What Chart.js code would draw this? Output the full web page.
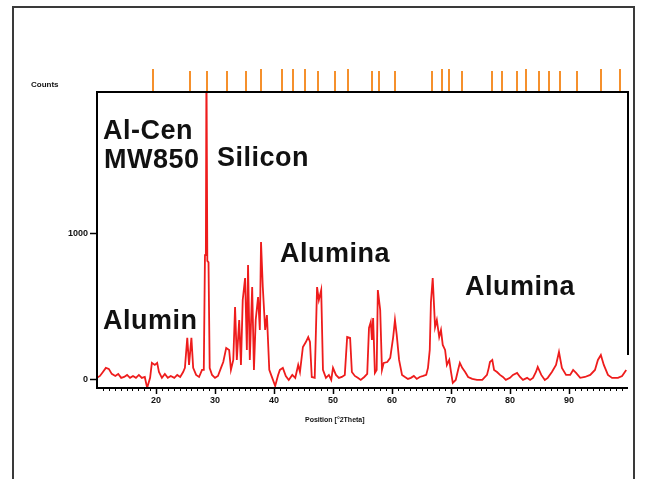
<!DOCTYPE html>
<html>
<head>
<meta charset="utf-8">
<script src="https://cdn.jsdelivr.net/npm/chart.js@4.4.0/dist/chart.umd.min.js"></script>
<style>
  html, body { margin: 0; padding: 0; background: #fff; }
  #wrap { position: relative; width: 649px; height: 479px; overflow: hidden; }
  #frame { position: absolute; left: 12px; top: 6px; width: 619px; height: 480px; border: 2px solid #3a3a3a; border-bottom: none; }
  canvas { position: absolute; left: 0; top: 0; }
  .lbl { position: absolute; font-family: "Liberation Sans", Arial, sans-serif; font-weight: bold; font-size: 27px; line-height: 27px; letter-spacing: 0.5px; color: #111; white-space: nowrap; }
  .tiny { position: absolute; font-family: "Liberation Sans", Arial, sans-serif; font-weight: bold; font-size: 8px; line-height: 8px; color: #111; white-space: nowrap; }
</style>
</head>
<body>
<div id="wrap">
  <div id="frame"></div>
  <canvas id="xrd" width="649" height="479"></canvas>
  <div class="tiny" style="left:31px; top:81px;">Counts</div>
  <div class="tiny" style="left:305px; top:416px; font-size:7px;">Position [°2Theta]</div>
  <div class="lbl" style="left:103px; top:117px;">Al-Cen</div>
  <div class="lbl" style="left:104px; top:146px;">MW850</div>
  <div class="lbl" style="left:217px; top:144px;">Silicon</div>
  <div class="lbl" style="left:280px; top:240px;">Alumina</div>
  <div class="lbl" style="left:465px; top:273px;">Alumina</div>
  <div class="lbl" style="left:103px; top:307px;">Alumin</div>
</div>
<script>
// measured pattern: 2theta position and counts
const position = [
  10.0, 10.5, 11.0, 11.5, 12.0, 12.5, 13.1, 13.6, 14.1, 14.6,
  15.1, 15.6, 16.1, 16.6, 17.1, 17.6, 18.1, 18.5, 19.0, 19.3,
  19.8, 20.2, 20.5, 21.0, 21.5, 22.0, 22.5, 23.1, 23.6, 24.1,
  24.6, 24.9, 25.3, 25.6, 26.0, 26.3, 26.8, 27.3, 27.8, 28.1,
  28.3, 28.45, 28.55, 28.7, 28.9, 29.1, 29.5, 30.0, 30.5, 31.0,
  31.4, 31.9, 32.4, 32.7, 33.1, 33.4, 33.7, 34.1, 34.4, 34.7,
  35.1, 35.4, 35.6, 35.9, 36.3, 36.6, 36.9, 37.3, 37.6, 37.8,
  38.1, 38.5, 38.8, 39.2, 39.7, 40.2, 40.7, 41.0, 41.5, 42.0,
  42.5, 43.1, 43.6, 44.1, 44.4, 44.9, 45.4, 45.8, 46.1, 46.4,
  46.9, 47.3, 47.6, 48.0, 48.3, 48.8, 49.3, 49.7, 50.0, 50.5,
  51.0, 51.5, 52.0, 52.4, 52.9, 53.2, 53.7, 54.2, 54.7, 55.3,
  55.8, 56.1, 56.4, 56.6, 56.8, 57.1, 57.4, 57.6, 58.0, 58.3,
  58.6, 59.2, 59.7, 60.2, 60.5, 60.8, 61.2, 61.7, 62.2, 62.7,
  63.2, 63.7, 64.2, 64.7, 65.3, 65.8, 66.1, 66.4, 66.6, 66.9,
  67.3, 67.6, 68.0, 68.3, 68.6, 69.0, 69.3, 69.7, 70.0, 70.3,
  70.8, 71.2, 71.5, 71.9, 72.4, 72.9, 73.6, 74.4, 75.3, 76.1,
  76.4, 76.6, 77.0, 77.3, 77.8, 78.3, 78.8, 79.3, 80.0, 80.5,
  81.2, 81.7, 82.2, 82.9, 83.4, 83.9, 84.4, 84.7, 85.3, 85.9,
  86.4, 87.1, 87.8, 88.3, 88.8, 89.5, 90.2, 90.7, 91.2, 91.9,
  92.7, 93.6, 94.4, 94.9, 95.4, 95.9, 96.6, 97.3, 98.3, 99.0,
  99.7
];
const counts = [
  14, 27, 54, 82, 75, 41, 27, 41, 14, 20,
  34, 14, 27, 14, 34, 14, 20, -54, 14, 116,
  102, 116, 54, 14, 41, 14, 27, 14, 34, 20,
  54, 82, 286, 102, 286, 82, 34, 20, 68, 68,
  850, 850, 2200, 810, 800, 80, 34, 14, 27, 80,
  122, 218, 204, 68, 136, 496, 136, 408, 102, 544,
  694, 204, 782, 136, 632, 68, 408, 564, 340, 938,
  632, 340, 442, 68, 14, -41, 34, 68, 82, 27,
  0, 34, 14, 102, 54, 224, 258, 292, 258, 20,
  14, 632, 544, 612, 68, 14, 34, 0, 82, 34,
  14, 20, 34, 292, 286, 54, 27, 14, 0, 20,
  41, 354, 394, 272, 422, 48, 68, 612, 476, 68,
  116, 122, 150, 292, 408, 306, 136, 34, 20, 7,
  14, 27, 7, 20, 27, 34, 82, 204, 530, 694,
  360, 408, 292, 340, 238, 204, 102, 136, 54, -20,
  0, 68, 116, 82, 54, 20, 7, 0, 0, 34,
  82, 122, 136, 68, 54, 34, 20, 0, 14, 34,
  48, 20, 0, 14, 0, 14, 54, 88, 34, 0,
  14, 54, 102, 190, 82, 34, 34, 68, 48, 14,
  20, 34, 68, 136, 170, 102, 34, 14, 14, 27,
  68
];
// reference pattern peak positions (orange sticks above the plot)
const refPeaks = [19.5, 25.8, 28.6, 32.0, 35.3, 37.8, 41.4, 43.2, 45.3, 47.5,
  50.3, 52.5, 56.6, 57.8, 60.5, 66.8, 68.5, 69.7, 71.9, 77.0,
  78.6, 81.2, 82.7, 84.9, 86.6, 88.5, 91.4, 95.4, 98.6];
const refStrong = [19.5, 37.8, 41.4, 43.2, 45.3, 52.5, 68.5, 69.7, 82.7, 95.4, 98.6];
const xTickLabels = [20, 30, 40, 50, 60, 70, 80, 90];
const yTickLabels = [0, 1000];

const points = position.map((p, i) => ({ x: p, y: counts[i] }));

// box, minor ticks and reference sticks
const decorations = {
  id: 'decorations',
  afterDatasetsDraw(chart) {
    const { ctx, chartArea: a, scales: { x } } = chart;
    ctx.save();
    ctx.strokeStyle = '#000';
    ctx.lineWidth = 2;
    ctx.beginPath();
    ctx.moveTo(a.right, a.bottom - 33);
    ctx.lineTo(a.right, a.top);
    ctx.lineTo(a.left, a.top);
    ctx.lineTo(a.left, a.bottom);
    ctx.lineTo(a.right, a.bottom);
    ctx.stroke();

    ctx.lineWidth = 1;
    ctx.beginPath();
    for (let v = 11; v < 100; v++) {
      if (v % 10 === 0) continue;
      const px = Math.round(x.getPixelForValue(v)) + 0.5;
      ctx.moveTo(px, a.bottom);
      ctx.lineTo(px, a.bottom + 3);
    }
    ctx.stroke();

    ctx.strokeStyle = '#f5902c';
    ctx.lineWidth = 2;
    refPeaks.forEach(p => {
      const px = Math.round(x.getPixelForValue(p));
      const len = refStrong.includes(p) ? 22 : 20;
      ctx.beginPath();
      ctx.moveTo(px, a.top - 1);
      ctx.lineTo(px, a.top - 1 - len);
      ctx.stroke();
    });
    ctx.restore();
  }
};

const tickFont = { family: '"Liberation Sans", Arial, sans-serif', size: 9, weight: 'bold' };

new Chart(document.getElementById('xrd'), {
  type: 'line',
  data: {
    datasets: [{
      data: points,
      borderColor: '#ee1c1c',
      borderWidth: 1.8,
      pointRadius: 0,
      tension: 0,
      fill: false
    }]
  },
  options: {
    responsive: false,
    animation: false,
    devicePixelRatio: 1,
    layout: { padding: { top: 92, right: 21, left: 0, bottom: 0 } },
    plugins: { legend: { display: false }, tooltip: { enabled: false } },
    scales: {
      x: {
        type: 'linear',
        min: 10,
        max: 100,
        afterBuildTicks: s => { s.ticks = xTickLabels.map(v => ({ value: v })); },
        afterFit: s => { s.height = 91; },
        border: { display: false },
        grid: { drawOnChartArea: false, color: 'transparent', tickColor: '#000', tickLength: 6, tickWidth: 1.5 },
        ticks: { color: '#111', font: tickFont, padding: 1, maxRotation: 0, callback: v => String(v) }
      },
      y: {
        min: -55,
        max: 1960,
        afterBuildTicks: s => { s.ticks = yTickLabels.map(v => ({ value: v })); },
        afterFit: s => { s.width = 97; },
        border: { display: false },
        grid: { drawOnChartArea: false, color: 'transparent', tickColor: '#000', tickLength: 7, tickWidth: 1.5 },
        ticks: { color: '#111', font: tickFont, padding: 2, callback: v => String(v) }
      }
    }
  },
  plugins: [decorations]
});
</script>
</body>
</html>
